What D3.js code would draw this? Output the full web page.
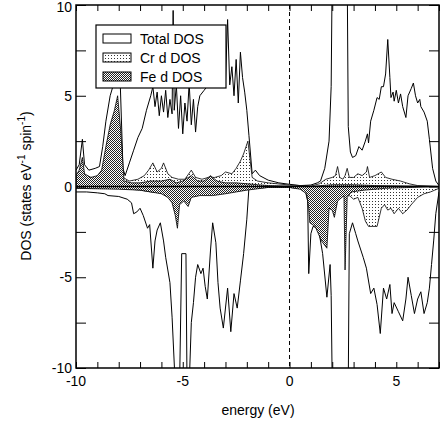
<!DOCTYPE html>
<html>
<head>
<meta charset="utf-8">
<script src="https://cdn.jsdelivr.net/npm/d3@7"></script>
<style>
  body { margin: 0; background: #fff; }
  text { font-family: "Liberation Sans", Arial, sans-serif; }
</style>
</head>
<body>
<svg id="chart" width="442" height="427"></svg>
<script>
// [energy (eV), DOS] pairs
var totalUp = [[-10,0.9],[-9.85,1.2],[-9.7,2.6],[-9.6,1.2],[-9.4,0.9],[-9.1,1.0],[-8.9,1.1],[-8.75,2.2],[-8.6,3.6],[-8.4,5.0],[-8.25,5.6],[-8.1,7.0],[-7.95,6.5],[-7.8,1.0],[-7.7,0.6],[-7.5,1.3],[-7.3,2.0],[-7.1,2.7],[-6.9,3.2],[-6.7,4.2],[-6.5,5.0],[-6.4,5.5],[-6.3,4.4],[-6.2,5.2],[-6.1,3.9],[-6.0,5.0],[-5.9,4.1],[-5.8,5.3],[-5.7,3.8],[-5.6,4.8],[-5.5,4.0],[-5.45,9.7],[-5.4,4.2],[-5.3,5.6],[-5.2,3.2],[-5.1,5.0],[-5.0,2.9],[-4.9,4.6],[-4.8,3.6],[-4.7,5.7],[-4.6,3.4],[-4.5,4.8],[-4.4,3.0],[-4.3,4.4],[-4.2,5.0],[-4.0,5.3],[-3.8,5.6],[-3.6,5.8],[-3.4,5.5],[-3.2,6.0],[-3.0,5.8],[-2.9,9.2],[-2.8,5.6],[-2.7,6.6],[-2.6,5.0],[-2.5,7.0],[-2.4,4.6],[-2.3,7.4],[-2.2,6.0],[-2.1,5.2],[-2.0,4.2],[-1.9,2.8],[-1.75,0.7],[-1.6,0.9],[-1.4,0.6],[-1.0,0.35],[-0.5,0.2],[0,0.12],[0.5,0.05],[1.0,0.08],[1.3,0.2],[1.45,0.3],[1.65,1.0],[1.85,2.5],[1.95,5.5],[2.0,12],[2.7,12],[2.75,3.3],[2.85,1.9],[2.95,1.6],[3.1,1.7],[3.25,2.2],[3.4,2.0],[3.55,2.5],[3.65,2.9],[3.7,2.4],[3.8,3.6],[3.95,4.2],[4.1,4.9],[4.2,4.8],[4.3,5.5],[4.4,5.5],[4.5,6.2],[4.6,8.1],[4.7,6.0],[4.75,4.9],[4.85,5.2],[4.9,4.7],[5.0,5.3],[5.1,4.6],[5.2,5.1],[5.3,4.4],[5.45,3.8],[5.55,5.0],[5.7,5.4],[5.8,5.7],[5.9,5.0],[6.0,4.6],[6.1,4.8],[6.15,4.4],[6.3,4.1],[6.45,3.6],[6.55,2.6],[6.7,1.0],[6.85,0.3],[7.0,0.05]];
var crUp = [[-10,0.6],[-9.7,0.8],[-9.5,0.5],[-9,0.5],[-8.6,0.7],[-8.2,1.0],[-7.8,0.5],[-7.5,0.3],[-7.1,0.4],[-6.8,0.6],[-6.6,0.9],[-6.4,1.3],[-6.2,0.8],[-6.0,1.0],[-5.9,1.3],[-5.7,0.7],[-5.5,0.5],[-5.2,0.4],[-4.9,0.4],[-4.6,0.9],[-4.4,0.5],[-4.1,0.4],[-3.8,0.5],[-3.5,0.5],[-3.2,0.6],[-3.0,0.8],[-2.7,0.7],[-2.5,1.0],[-2.3,1.4],[-2.15,1.8],[-1.95,2.5],[-1.85,1.5],[-1.75,0.5],[-1.5,0.3],[-1,0.2],[0,0.08],[1.0,0.02],[1.4,0.15],[1.7,0.4],[2.0,0.5],[2.15,0.6],[2.25,1.1],[2.35,0.5],[2.5,0.4],[2.6,0.6],[2.7,1.0],[2.8,0.5],[3.0,0.5],[3.2,0.7],[3.4,0.6],[3.6,0.8],[3.65,1.1],[3.75,0.5],[4.0,0.6],[4.3,0.8],[4.5,0.5],[4.8,0.4],[5.2,0.3],[5.6,0.15],[6.0,0.05],[7,0]];
var feUp = [[-10,0.6],[-9.85,0.9],[-9.7,1.6],[-9.6,0.7],[-9.3,0.5],[-9.0,0.6],[-8.8,0.9],[-8.6,2.2],[-8.4,3.4],[-8.2,4.2],[-8.05,5.0],[-7.9,3.0],[-7.75,0.3],[-7.4,0.2],[-7.0,0.2],[-6.5,0.3],[-6.0,0.3],[-5.6,0.4],[-5.3,0.2],[-5.0,0.3],[-4.6,0.6],[-4.3,0.3],[-4.0,0.3],[-3.7,0.6],[-3.4,0.3],[-3.0,0.2],[-2.5,0.2],[-2.0,0.15],[-1.5,0.1],[-1,0.05],[0,0.02],[1,0],[2,0.1],[3,0.1],[4,0.05],[7,0]];
var totalDown = [[-10,-0.3],[-9.5,-0.3],[-9.0,-0.35],[-8.65,-0.4],[-8.5,-0.5],[-8.0,-0.55],[-7.6,-0.7],[-7.4,-0.9],[-7.3,-1.5],[-7.15,-1.4],[-7.0,-1.2],[-6.85,-1.6],[-6.65,-2.3],[-6.55,-2.1],[-6.4,-4.5],[-6.3,-3.0],[-6.2,-2.4],[-6.05,-2.0],[-5.9,-3.0],[-5.8,-3.9],[-5.7,-4.6],[-5.6,-5.3],[-5.5,-7.2],[-5.35,-11],[-5.15,-11],[-5.05,-3.7],[-4.85,-3.7],[-4.8,-11],[-4.7,-11],[-4.6,-7.5],[-4.5,-6.4],[-4.4,-5.0],[-4.3,-4.3],[-4.15,-4.8],[-4.05,-4.5],[-3.95,-5.5],[-3.85,-6.2],[-3.7,-3.5],[-3.6,-2.0],[-3.45,-3.1],[-3.35,-5.3],[-3.25,-6.7],[-3.1,-7.8],[-2.9,-5.6],[-2.75,-8.0],[-2.6,-5.9],[-2.45,-6.7],[-2.3,-5.2],[-2.15,-3.7],[-2.0,-1.8],[-1.9,-0.05],[-1,-0.03],[0,-0.05],[0.5,-0.1],[0.75,-0.3],[0.85,-0.8],[0.9,-4.8],[1.0,-2.6],[1.1,-2.2],[1.35,-2.3],[1.55,-3.7],[1.75,-6.1],[1.9,-4.3],[1.95,-6],[2.0,-11],[2.75,-11],[2.8,-2.6],[2.95,-2.0],[3.1,-2.6],[3.2,-3.0],[3.45,-3.9],[3.6,-4.5],[3.8,-5.9],[3.95,-5.6],[4.1,-6.5],[4.25,-8.1],[4.4,-5.6],[4.55,-6.2],[4.7,-5.4],[4.8,-7.0],[4.9,-6.4],[5.1,-6.9],[5.3,-7.4],[5.45,-6.2],[5.55,-5.0],[5.7,-6.0],[5.85,-7.0],[6.0,-6.2],[6.15,-5.8],[6.3,-7.0],[6.45,-6.4],[6.55,-5.6],[6.65,-4.3],[6.75,-3.0],[6.85,-1.5],[7.0,-0.3]];
var crDown = [[-10,-0.1],[-8,-0.1],[-7,-0.2],[-6.5,-0.3],[-6,-0.35],[-5.5,-0.5],[-5.2,-0.6],[-4.8,-0.4],[-4.0,-0.3],[-3.0,-0.3],[-2.5,-0.25],[-2.0,-0.15],[-1,-0.05],[0,-0.05],[0.5,-0.1],[1.0,-0.3],[1.5,-0.5],[2.0,-0.5],[2.5,-0.5],[2.8,-0.5],[3.0,-0.7],[3.2,-0.6],[3.4,-1.2],[3.55,-1.9],[3.7,-2.2],[3.9,-2.2],[4.1,-2.2],[4.2,-1.7],[4.3,-1.2],[4.45,-1.0],[4.6,-1.3],[4.75,-1.2],[4.9,-1.5],[5.1,-1.2],[5.3,-1.5],[5.5,-1.3],[5.7,-1.0],[6.0,-0.6],[6.3,-0.4],[6.6,-0.3],[6.8,-0.2],[7.0,-0.1]];
var feDown = [[-10,-0.1],[-8,-0.15],[-7,-0.2],[-6.5,-0.3],[-6,-0.4],[-5.7,-0.6],[-5.5,-0.9],[-5.35,-1.6],[-5.25,-2.3],[-5.15,-1.0],[-4.95,-0.8],[-4.75,-1.1],[-4.6,-0.6],[-4.2,-0.5],[-3.6,-0.5],[-3.0,-0.4],[-2.5,-0.3],[-2.0,-0.2],[-1,-0.05],[0,-0.05],[0.5,-0.15],[0.8,-0.4],[0.9,-1.2],[0.95,-2.0],[1.2,-2.2],[1.5,-3.0],[1.75,-3.4],[1.85,-1.2],[2.0,-1.3],[2.1,-1.7],[2.25,-0.8],[2.45,-0.6],[2.55,-0.5],[2.6,-4.6],[2.7,-0.6],[2.9,-0.3],[3.5,-0.2],[4.5,-0.1],[7,0]];

var xTicks = [-10, -5, 0, 5];
var yTicks = [-10, -5, 0, 5, 10];
var legendItems = ['Total DOS', 'Cr d DOS', 'Fe d DOS'];

var svg = d3.select('#chart');
var m = { left: 76, right: 439, top: 5, bottom: 368 };
var x = d3.scaleLinear().domain([-10, 7]).range([m.left, m.right]);
var y = d3.scaleLinear().domain([-10, 10]).range([m.bottom, m.top]);

var defs = svg.append('defs');
var dots = defs.append('pattern').attr('id', 'dots').attr('width', 3).attr('height', 3)
  .attr('patternUnits', 'userSpaceOnUse');
dots.append('rect').attr('width', 3).attr('height', 3).attr('fill', '#fff');
dots.append('rect').attr('width', 1).attr('height', 1).attr('fill', '#333');
var checks = defs.append('pattern').attr('id', 'checks').attr('width', 2).attr('height', 2)
  .attr('patternUnits', 'userSpaceOnUse');
checks.append('rect').attr('width', 2).attr('height', 2).attr('fill', '#fff');
checks.append('rect').attr('width', 1).attr('height', 1).attr('fill', '#222');
checks.append('rect').attr('x', 1).attr('y', 1).attr('width', 1).attr('height', 1).attr('fill', '#222');
defs.append('clipPath').attr('id', 'clip').append('rect')
  .attr('x', m.left).attr('y', m.top).attr('width', m.right - m.left).attr('height', m.bottom - m.top);

var g = svg.append('g').attr('clip-path', 'url(#clip)');
var line = d3.line().x(function(d) { return x(d[0]); }).y(function(d) { return y(d[1]); });
var area = d3.area().x(function(d) { return x(d[0]); }).y0(y(0)).y1(function(d) { return y(d[1]); });

[totalUp, totalDown].forEach(function(s) {
  g.append('path').attr('d', line(s)).attr('fill', 'none').attr('stroke', '#000').attr('stroke-width', 1);
});
[crUp, crDown].forEach(function(s) {
  g.append('path').attr('d', area(s)).attr('fill', 'url(#dots)').attr('stroke', '#000').attr('stroke-width', 0.8);
});
[feUp, feDown].forEach(function(s) {
  g.append('path').attr('d', area(s)).attr('fill', 'url(#checks)').attr('stroke', '#000').attr('stroke-width', 0.8);
});
g.append('line').attr('x1', m.left).attr('x2', m.right).attr('y1', y(0)).attr('y2', y(0))
  .attr('stroke', '#000').attr('stroke-width', 1.5);
g.append('line').attr('x1', x(0)).attr('x2', x(0)).attr('y1', m.top).attr('y2', m.bottom)
  .attr('stroke', '#000').attr('stroke-dasharray', '4,3');

// inward ticks on all four sides
function ticks(axis, scale, vals, len) {
  return axis(scale).tickValues(vals).tickSize(len).tickFormat('');
}
var minorX = d3.range(-10, 8, 1), minorY = d3.range(-10, 10.1, 2.5);
svg.append('g').attr('transform', 'translate(0,' + m.bottom + ')').call(ticks(d3.axisTop, x, minorX, 6));
svg.append('g').attr('transform', 'translate(0,' + m.top + ')').call(ticks(d3.axisBottom, x, minorX, 6));
svg.append('g').attr('transform', 'translate(' + m.left + ',0)').call(ticks(d3.axisRight, y, minorY, 10));
svg.append('g').attr('transform', 'translate(' + m.right + ',0)').call(ticks(d3.axisLeft, y, minorY, 10));
svg.selectAll('.domain').remove();
svg.selectAll('.tick line').attr('stroke', '#000');

svg.append('rect').attr('x', m.left).attr('y', m.top).attr('width', m.right - m.left).attr('height', m.bottom - m.top)
  .attr('fill', 'none').attr('stroke', '#000').attr('stroke-width', 1.5);

svg.selectAll('.xl').data(xTicks).enter().append('text')
  .attr('x', function(d) { return x(d); }).attr('y', m.bottom + 18)
  .attr('text-anchor', 'middle').attr('font-size', 14).text(function(d) { return d; });
svg.selectAll('.yl').data(yTicks).enter().append('text')
  .attr('x', m.left - 4).attr('y', function(d) { return Math.max(y(d) + 5, 12); })
  .attr('text-anchor', 'end').attr('font-size', 14).text(function(d) { return d; });

svg.append('text').attr('x', 258).attr('y', 415).attr('text-anchor', 'middle').attr('font-size', 14).text('energy (eV)');
var yl = svg.append('text').attr('transform', 'translate(31,186) rotate(-90)').attr('text-anchor', 'middle').attr('font-size', 14);
yl.append('tspan').text('DOS (states eV');
yl.append('tspan').attr('dy', -6).attr('font-size', 10).text('-1');
yl.append('tspan').attr('dy', 6).text(' spin');
yl.append('tspan').attr('dy', -6).attr('font-size', 10).text('-1');
yl.append('tspan').attr('dy', 6).text(')');

// legend
var lg = svg.append('g').attr('transform', 'translate(96,25)');
lg.append('rect').attr('width', 130).attr('height', 63).attr('fill', '#fff').attr('stroke', '#000').attr('stroke-width', 1.2);
var fills = ['#fff', 'url(#dots)', 'url(#checks)'];
legendItems.forEach(function(t, i) {
  lg.append('rect').attr('x', 7).attr('y', 9 + i * 19).attr('width', 28).attr('height', 9)
    .attr('fill', fills[i]).attr('stroke', '#000');
  lg.append('text').attr('x', 44).attr('y', 19 + i * 19).attr('font-size', 14).text(t);
});
</script>
</body>
</html>
